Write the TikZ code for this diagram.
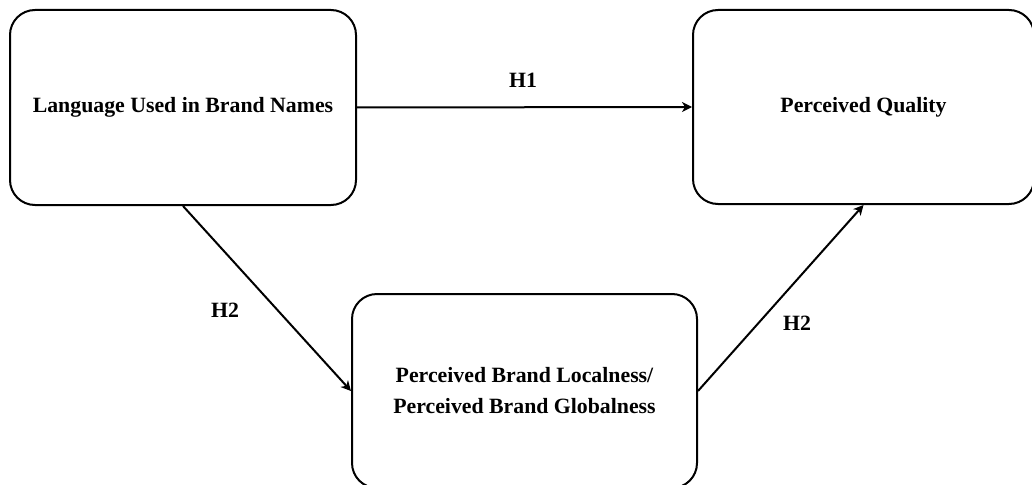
\documentclass[tikz,border=0pt]{standalone}
\usepackage{fontspec}
\setmainfont{Liberation Serif}
\usetikzlibrary{arrows.meta}
\begin{document}
\begin{tikzpicture}[x=1pt,y=-1pt,
  box/.style={draw,line width=2pt,rounded corners=25pt,inner sep=0pt,
    align=center,font=\fontsize{21.8}{31}\selectfont\bfseries},
  conn/.style={line width=2pt,-{Stealth[length=10pt,width=10pt,inset=3pt]}},
  lbl/.style={font=\fontsize{21.8}{26}\selectfont\bfseries}]
\useasboundingbox (0,0) rectangle (1032,484);
\node[box,minimum width=346pt,minimum height=195pt] (a) at (183,107.5) {Language Used in Brand Names};
\node[box,minimum width=341pt,minimum height=194pt] (b) at (863.5,107) {Perceived Quality};
\node[box,minimum width=345pt,minimum height=194pt] (c) at (524.5,391) {Perceived Brand Localness/\\Perceived Brand Globalness};
\draw[conn] (a.east) -- (b.west);
\draw[conn] (a.south) -- (c.west);
\draw[conn] (c.east) -- (b.south);
\node[lbl] (h1) at (523,80) {H1};
\node[lbl] (h2a) at (225,310) {H2};
\node[lbl] (h2b) at (797,323) {H2};
\end{tikzpicture}
\end{document}
